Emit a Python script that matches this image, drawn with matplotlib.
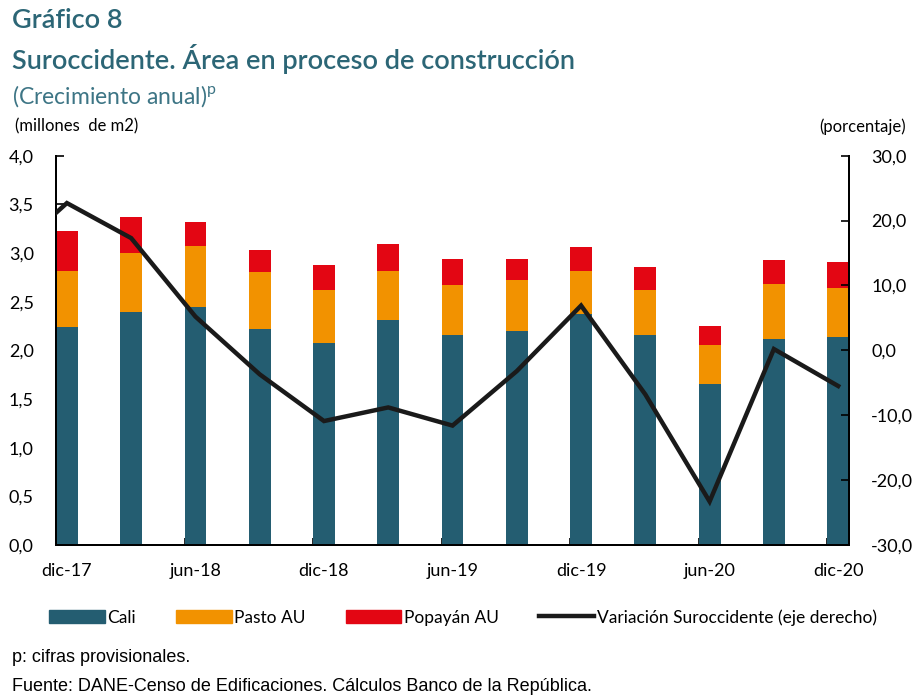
import matplotlib
matplotlib.use("Agg")
import matplotlib.pyplot as plt
from matplotlib.patches import Patch
from matplotlib.lines import Line2D
import numpy as np

# data (millones de m2 and % anual)
periods = ["sep-17", "dic-17", "mar-18", "jun-18", "sep-18", "dic-18", "mar-19", "jun-19",
           "sep-19", "dic-19", "mar-20", "jun-20", "sep-20", "dic-20"]
cali = [2.24, 2.39, 2.45, 2.22, 2.08, 2.31, 2.16, 2.20, 2.37, 2.16, 1.65, 2.12, 2.14]
pasto = [0.58, 0.61, 0.62, 0.58, 0.54, 0.51, 0.51, 0.52, 0.45, 0.46, 0.40, 0.56, 0.50]
popayan = [0.41, 0.37, 0.25, 0.23, 0.26, 0.27, 0.27, 0.22, 0.24, 0.24, 0.20, 0.25, 0.27]
# first value (sep-17) lies outside the plot and is only seen as the clipped start of the line
variacion = [13.8, 22.7, 17.3, 5.2, -3.7, -10.9, -8.8, -11.6, -3.2, 6.9, -6.8, -23.3, 0.2, -5.5]
xlabels = ["dic-17", "jun-18", "dic-18", "jun-19", "dic-19", "jun-20", "dic-20"]

C_CALI = "#245d71"
C_PASTO = "#f29200"
C_POP = "#e30613"
C_TITLE = "#2c6676"

plt.rcParams['font.family'] = ['Lato', 'DejaVu Sans']

fig = plt.figure(figsize=(9.13, 6.96), dpi=100)
ax = fig.add_axes([0.0613, 0.217, 0.8687, 0.5593])
ax2 = ax.twinx()

n = len(cali)
x = np.arange(n)
w = 0.34
b2 = np.array(cali) + np.array(pasto)
ax.bar(x, cali, w, color=C_CALI, zorder=2)
ax.bar(x, pasto, w, bottom=cali, color=C_PASTO, zorder=2)
ax.bar(x, popayan, w, bottom=b2, color=C_POP, zorder=2)

xl = np.arange(-1, n)
ax2.plot(xl, variacion, color="#1a1a1a", lw=3.2, solid_joinstyle="miter", zorder=3)

ax.set_xlim(-w / 2, n - 1 + w / 2)
ax.set_ylim(0, 4)
ax2.set_ylim(-30, 30)

ax.set_yticks(np.arange(0, 4.01, 0.5))
ax.set_yticklabels([f"{v:.1f}".replace(".", ",") for v in np.arange(0, 4.01, 0.5)])
ax2.set_yticks(np.arange(-30, 31, 10))
ax2.set_yticklabels([f"{v:.1f}".replace(".", ",") for v in np.arange(-30, 31, 10)])

ax.set_xticks(x[::2])
ax.set_xticklabels(xlabels)
ax.set_xticks(x[2::2] - w / 2, minor=True)
ax.tick_params(axis="x", which="major", length=0, pad=13, labelsize=13)
ax.tick_params(axis="x", which="minor", direction="in", length=5, width=1.2)
ax.tick_params(axis="y", direction="in", length=6, width=1.2, pad=16, labelsize=13)
ax2.tick_params(axis="y", direction="in", length=6, width=1.2, pad=16, labelsize=13)

for a in (ax, ax2):
    a.spines["top"].set_visible(False)
    for s in ("left", "right", "bottom"):
        a.spines[s].set_linewidth(1.4)

ax.set_zorder(ax2.get_zorder() - 1)
ax2.patch.set_visible(False)

fig.text(0.013, 0.970, "Gráfico 8", fontsize=19.5, color=C_TITLE, va="center",
         fontweight="semibold")
fig.text(0.013, 0.915, "Suroccidente. Área en proceso de construcción", fontsize=19.5,
         color=C_TITLE, va="center", fontweight="semibold")
fig.text(0.013, 0.862, "(Crecimiento anual)$^{\\mathregular{p}}$", fontsize=16.5, color="#3d7585",
         va="center")
fig.text(0.016, 0.818, "(millones  de m2)", fontsize=12, va="center")
fig.text(0.992, 0.818, "(porcentaje)", fontsize=12, va="center", ha="right")

handles = [Patch(color=C_CALI), Patch(color=C_PASTO), Patch(color=C_POP),
           Line2D([], [], color="#1a1a1a", lw=3.2)]
labels = ["Cali", "Pasto AU", "Popayán AU", "Variación Suroccidente (eje derecho)"]
fig.legend(handles, labels, loc="center left", bbox_to_anchor=(0.037, 0.113), ncol=4,
           frameon=False, fontsize=12.5, handlelength=3.2, handleheight=0.8,
           handletextpad=0.15, columnspacing=2.3)

fig.text(0.013, 0.056, "p: cifras provisionales.", fontsize=13, va="center",
         family="Liberation Sans")
fig.text(0.013, 0.014, "Fuente: DANE-Censo de Edificaciones. Cálculos Banco de la República.",
         fontsize=13, va="center", family="Liberation Sans")

fig.savefig("out.png", dpi=100)
